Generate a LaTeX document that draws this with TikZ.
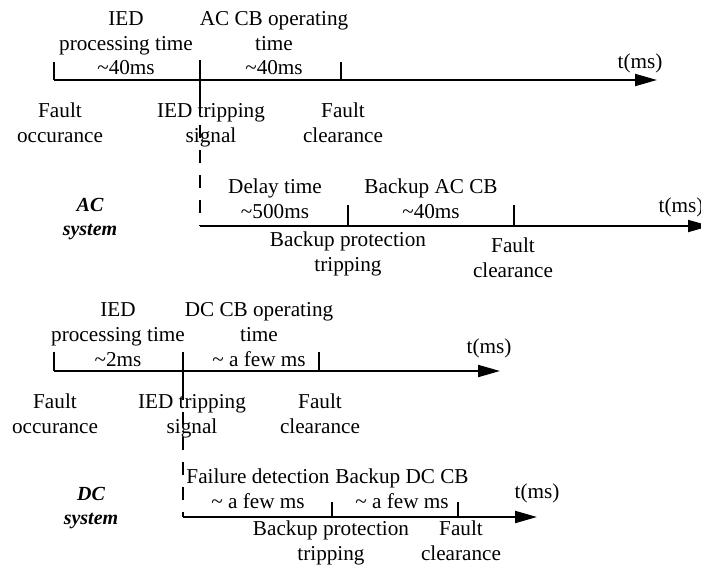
\documentclass[tikz,border=0pt]{standalone}
\usepackage{fontspec}
\setmainfont{Liberation Serif}
\usepackage{tikz}
\usetikzlibrary{positioning}
\usetikzlibrary{arrows.meta}
\usetikzlibrary{calc}

\tikzset{
  axis/.style={line width=1pt,-{Triangle[length=11pt,width=6pt]}},
  tick/.style={line width=0.6pt},
  trip/.style={line width=0.8pt,dash pattern=on 6.5pt off 6pt},
  lbl/.style={align=center,inner sep=0pt,anchor=base},
  sys/.style={lbl,font=\bfseries\itshape},
}

\begin{document}
\begin{tikzpicture}[x=0.5pt,y=-0.5pt,font=\fontsize{10.6}{12.4}\selectfont]
  \useasboundingbox (0,0) rectangle (701,567);
  % AC system
  \coordinate (acA) at (54,80);
  \coordinate (acB) at (200,80);
  \coordinate (acC) at (341,80);
  \coordinate (acEnd) at (657,80);
  \coordinate (acbB) at (200,226);
  \coordinate (acbD) at (348,226);
  \coordinate (acbE) at (514,226);
  \coordinate (acbEnd) at (710,226);
  \draw[axis] (acA) -- (acEnd);
  \draw[tick] (acA) -- ++(0,-18);
  \draw[tick] (acC) -- ++(0,-18);
  \draw[tick] ($(acB)+(0,-20)$) -- ($(acB)+(0,20)$);
  \draw[trip] ($(acB)+(0,20)$) -- (acbB);
  \draw[axis] (acbB) -- (acbEnd);
  \draw[tick] (acbD) -- ++(0,-21);
  \draw[tick] (acbE) -- ++(0,-21);
  \node[lbl] (acIED) at (126,75) {IED\\processing time\\\textasciitilde40ms};
  \node[lbl] (acCB) at (274,75) {AC CB operating\\time\\\textasciitilde40ms};
  \node (acT) at (640,63) {t(ms)};
  \node[lbl] (acFault) at (60,142) {Fault\\occurance};
  \node[lbl] (acTrip) at (211,142) {IED tripping\\signal};
  \node[lbl] (acClear) at (343,142) {Fault\\clearance};
  \node[lbl] (acDelay) at (275,218) {Delay time\\\textasciitilde500ms};
  \node[lbl] (acBackup) at (431,218) {Backup AC CB\\\textasciitilde40ms};
  \node (acbT) at (681,207) {t(ms)};
  \node[lbl] (acBprot) at (348,271) {Backup protection\\tripping};
  \node[lbl] (acbClear) at (513,277) {Fault\\clearance};
  \node[sys] (acSys) at (90,235) {AC\\system};
  % DC system
  \coordinate (dcA) at (54,371);
  \coordinate (dcB) at (183,371);
  \coordinate (dcC) at (319,371);
  \coordinate (dcEnd) at (500,371);
  \coordinate (dcbB) at (183,517);
  \coordinate (dcbD) at (332,517);
  \coordinate (dcbE) at (458,517);
  \coordinate (dcbEnd) at (537,517);
  \draw[axis] (dcA) -- (dcEnd);
  \draw[tick] (dcA) -- ++(0,-19);
  \draw[tick] (dcC) -- ++(0,-19);
  \draw[tick] ($(dcB)+(0,-19)$) -- ($(dcB)+(0,16)$);
  \draw[trip] ($(dcB)+(0,16)$) -- (dcbB);
  \draw[axis] (dcbB) -- (dcbEnd);
  \draw[tick] (dcbD) -- ++(0,-15);
  \draw[tick] (dcbE) -- ++(0,-15);
  \node[lbl] (dcIED) at (118,366) {IED\\processing time\\\textasciitilde2ms};
  \node[lbl] (dcCB) at (259,366) {DC CB operating\\time\\\textasciitilde{} a few ms};
  \node (dcT) at (489,348) {t(ms)};
  \node[lbl] (dcFault) at (55,433) {Fault\\occurance};
  \node[lbl] (dcTrip) at (192,433) {IED tripping\\signal};
  \node[lbl] (dcClear) at (320,433) {Fault\\clearance};
  \node[lbl] (dcDetect) at (258,508) {Failure detection\\\textasciitilde{} a few ms};
  \node[lbl] (dcBackup) at (402,508) {Backup DC CB\\\textasciitilde{} a few ms};
  \node (dcbT) at (537,493) {t(ms)};
  \node[lbl] (dcBprot) at (331,560) {Backup protection\\tripping};
  \node[lbl] (dcbClear) at (461,560) {Fault\\clearance};
  \node[sys] (dcSys) at (91,524) {DC\\system};
\end{tikzpicture}
\end{document}
